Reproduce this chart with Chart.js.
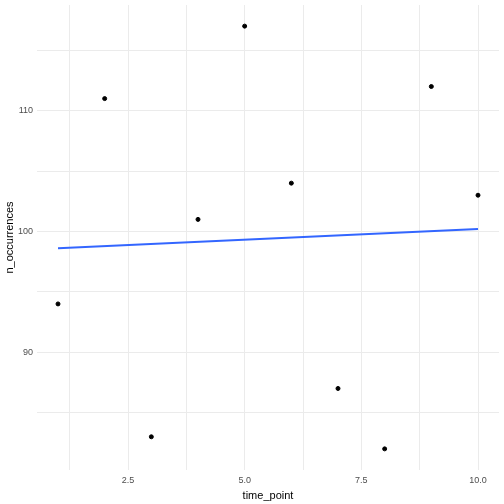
<!DOCTYPE html>
<html>
<head>
<meta charset="utf-8">
<script src="https://cdn.jsdelivr.net/npm/chart.js@4"></script>
<style>
    html, body { margin: 0; padding: 0; background: #fff; }
    #wrap { width: 504px; height: 504px; }
</style>
</head>
<body>
<div id="wrap"><canvas id="chart"></canvas></div>
<script>
// values
const timePoints = [1, 2, 3, 4, 5, 6, 7, 8, 9, 10];
const occurrences = [94, 111, 83, 101, 117, 104, 87, 82, 112, 103];
// fitted line (geom_smooth lm) end points
const fitX = [1, 10];
const fitY = [98.6, 100.2];

const xTicks = [1.25, 2.5, 3.75, 5, 6.25, 7.5, 8.75, 10];
const xLabels = ["", "2.5", "", "5.0", "", "7.5", "", "10.0"];
const yTicks = [85, 90, 95, 100, 105, 110, 115];
const yLabels = ["", "90", "", "100", "", "110", ""];

const gridColor = "#EBEBEB";

const ctx = document.getElementById("chart").getContext("2d");
new Chart(ctx, {
    data: {
        datasets: [
            {
                type: "line",
                data: fitX.map((x, i) => ({ x: x, y: fitY[i] })),
                borderColor: "#3366FF",
                borderWidth: 2,
                pointRadius: 0,
                fill: false,
                order: 2,
            },
            {
                type: "scatter",
                data: timePoints.map((x, i) => ({ x: x, y: occurrences[i] })),
                backgroundColor: "#000",
                borderColor: "#000",
                pointRadius: 2,
                order: 1,
            },
        ],
    },
    options: {
        responsive: true,
        maintainAspectRatio: false,
        animation: false,
        layout: { padding: { top: 5, right: 5, left: 0, bottom: 0 } },
        plugins: {
            legend: { display: false },
            tooltip: { enabled: false },
        },
        scales: {
            x: {
                type: "linear",
                min: 0.55,
                max: 10.45,
                afterFit: (s) => {
                    s.height = 34;
                    s.paddingLeft = 0;
                    s.paddingRight = 0;
                },
                afterBuildTicks: (s) => { s.ticks = xTicks.map((v) => ({ value: v })); },
                border: { display: false },
                grid: { color: gridColor, lineWidth: 1, drawTicks: false },
                ticks: {
                    padding: 5,
                    color: "#4D4D4D",
                    font: { family: "Liberation Sans", size: 9 },
                    maxRotation: 0,
                    autoSkip: false,
                    callback: (v, i) => xLabels[i],
                },
                title: {
                    display: true,
                    text: "time_point",
                    color: "#000",
                    font: { family: "Liberation Sans", size: 11 },
                    padding: { top: 0, bottom: 1 },
                },
            },
            y: {
                type: "linear",
                min: 80.25,
                max: 118.75,
                afterFit: (s) => {
                    s.width = 37;
                    s.paddingTop = 0;
                    s.paddingBottom = 0;
                },
                afterBuildTicks: (s) => { s.ticks = yTicks.map((v) => ({ value: v })); },
                border: { display: false },
                grid: { color: gridColor, lineWidth: 1, drawTicks: false },
                ticks: {
                    padding: 4,
                    color: "#4D4D4D",
                    font: { family: "Liberation Sans", size: 9 },
                    autoSkip: false,
                    callback: (v, i) => yLabels[i],
                },
                title: {
                    display: true,
                    text: "n_occurrences",
                    color: "#000",
                    font: { family: "Liberation Sans", size: 11 },
                    padding: { top: 3, bottom: 0 },
                },
            },
        },
    },
});
</script>
</body>
</html>
